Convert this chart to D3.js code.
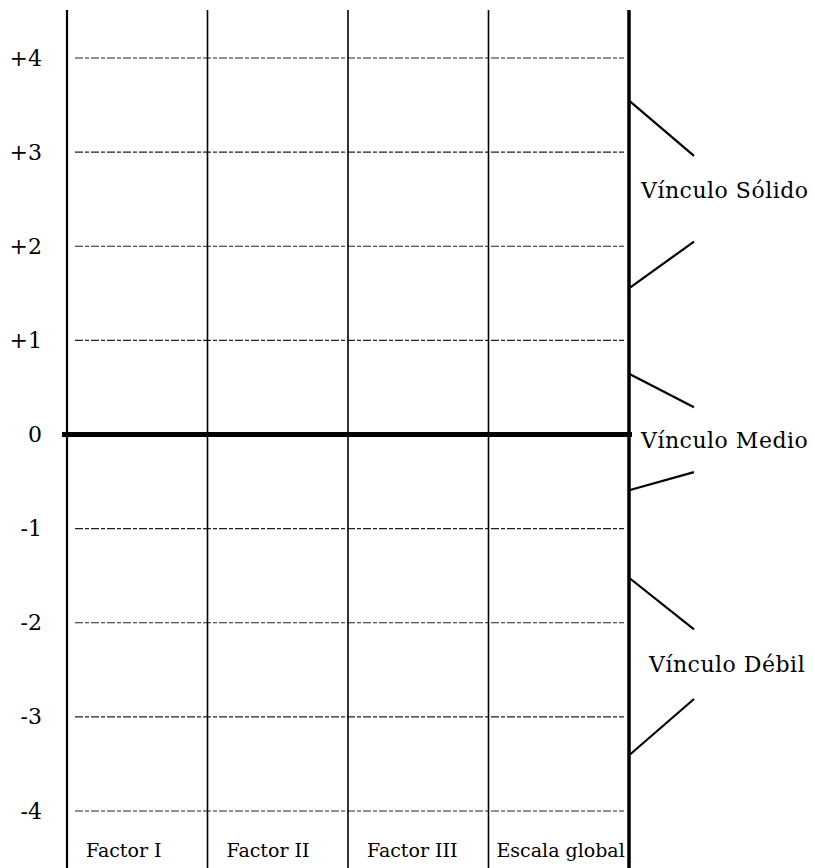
<!DOCTYPE html>
<html>
<head>
<meta charset="utf-8">
<script src="https://cdn.jsdelivr.net/npm/d3@7"></script>
<style>
  body { margin: 0; background: #fff; }
  text { font-family: "DejaVu Serif", "Liberation Serif", serif; fill: #000; }
</style>
</head>
<body>
<div id="chart"></div>
<script>
// Scale of the bond between factors, -4 to +4, with three bands marked on the right
let categories = ["Factor I", "Factor II", "Factor III", "Escala global"];
let tickValues = [4, 3, 2, 1, 0, -1, -2, -3, -4];
let tickLabels = ["+4", "+3", "+2", "+1", "0", "-1", "-2", "-3", "-4"];

// bands on the right: outer ends of the bracket, inner ends, and where the label sits
let bandNames = ["Vínculo Sólido", "Vínculo Medio", "Vínculo Débil"];
let bandHigh = [3.54, 0.64, -1.53];
let bandHighInner = [2.96, 0.29, -2.07];
let bandLowInner = [2.05, -0.4, -2.81];
let bandLow = [1.56, -0.59, -3.4];
let bandLabelAt = [2.6, -0.06, -2.44];

let W = 815, H = 868;
let margins = {top: 10, right: 186, left: 67, bottom: 0};

let svg = d3.select("#chart")
    .append("svg")
    .attr("width", W)
    .attr("height", H);

let x = d3.scaleBand()
    .domain(categories)
    .range([margins.left, W - margins.right]);

let y = d3.scaleLinear()
    .domain([-4, 4])
    .range([811, 58]);

// dashed grid lines at each integer except zero
svg.selectAll("line.grid")
    .data(tickValues.filter(function(d){ return d !== 0; }))
    .enter()
    .append("line")
        .attr("class", "grid")
        .attr("x1", margins.left + 8)
        .attr("x2", x.range()[1] - 5)
        .attr("y1", function(d){ return y(d); })
        .attr("y2", function(d){ return y(d); })
        .attr("stroke", "#222")
        .attr("stroke-width", 1.2)
        .attr("stroke-dasharray", "8,2,4,2");

// column separators
let bounds = categories.map(function(c){ return x(c); });
bounds.push(x.range()[1]);
svg.selectAll("line.col")
    .data(bounds)
    .enter()
    .append("line")
        .attr("class", "col")
        .attr("x1", function(d){ return d; })
        .attr("x2", function(d){ return d; })
        .attr("y1", margins.top)
        .attr("y2", H)
        .attr("stroke", "#000")
        .attr("stroke-width", function(d, i){ return i === bounds.length - 1 ? 3.5 : (i === 0 ? 2.2 : 1.6); });

// thick zero line
svg.append("line")
    .attr("x1", margins.left - 5)
    .attr("x2", x.range()[1] + 3)
    .attr("y1", y(0))
    .attr("y2", y(0))
    .attr("stroke", "#000")
    .attr("stroke-width", 5);

// y axis labels
let axis = svg.append("g")
    .attr("transform", "translate(" + margins.left + ",0)")
    .call(d3.axisLeft(y)
        .tickValues(tickValues)
        .tickSize(0)
        .tickPadding(25)
        .tickFormat(function(d, i){ return tickLabels[i]; }));
axis.select(".domain").remove();
axis.selectAll("text")
    .style("font-family", "DejaVu Serif, serif")
    .style("font-size", "22px")
    .attr("fill", "#000");

// category labels at the bottom
svg.selectAll("text.cat")
    .data(categories)
    .enter()
    .append("text")
        .attr("class", "cat")
        .attr("x", function(d, i){ return x(d) + (i === categories.length - 1 ? 8 : 19); })
        .attr("y", 857)
        .style("font-size", "19px")
        .text(function(d){ return d; });

// brackets on the right
let rx = x.range()[1] + 1;
let bx = rx + 64;
bandNames.forEach(function(name, i){
    svg.append("line")
        .attr("x1", rx).attr("y1", y(bandHigh[i]))
        .attr("x2", bx).attr("y2", y(bandHighInner[i]))
        .attr("stroke", "#000").attr("stroke-width", 2.2);
    svg.append("line")
        .attr("x1", rx).attr("y1", y(bandLow[i]))
        .attr("x2", bx).attr("y2", y(bandLowInner[i]))
        .attr("stroke", "#000").attr("stroke-width", 2.2);
    svg.append("text")
        .attr("x", rx + 11 + (i === 2 ? 8 : 0))
        .attr("y", y(bandLabelAt[i]) + 8)
        .style("font-size", "22px")
        .style("letter-spacing", "0.5px")
        .text(name);
});
</script>
</body>
</html>
